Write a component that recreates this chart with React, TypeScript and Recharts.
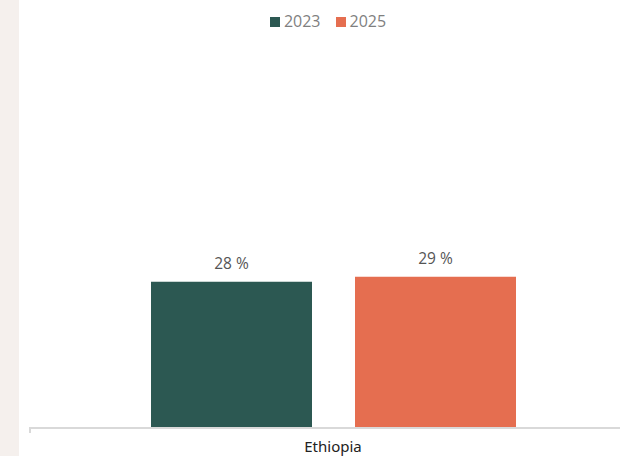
import React from 'react';
import { BarChart, Bar, XAxis, YAxis, Legend, LabelList } from 'recharts';

const categories = ['Ethiopia'];
const seriesNames = ['2023', '2025'];
const values2023 = [28];
const values2025 = [29];
const seriesColors = ['#2c5852', '#e56e50'];
const edgeTicks = [0];

const data = categories.map((c, i) => ({
  country: c,
  y2023: values2023[i],
  y2025: values2025[i],
}));

const renderLegend = (props: any) => {
  const payload = props.payload || [];
  return (
    <div
      style={{
        display: 'flex',
        justifyContent: 'center',
        alignItems: 'center',
        fontFamily: '"Open Sans", sans-serif',
        fontSize: 16,
        color: '#7f7f7f',
        lineHeight: '22px',
      }}
    >
      {payload.map((p: any, i: number) => (
        <span
          key={i}
          style={{ display: 'inline-flex', alignItems: 'center', marginRight: i === 0 ? 15 : 0 }}
        >
          <span
            style={{
              display: 'inline-block',
              width: 10,
              height: 10,
              background: p.color,
              marginRight: 4,
              marginTop: 2,
            }}
          />
          {p.value}
        </span>
      ))}
    </div>
  );
};

export default function App() {
  return (
    <div
      style={{
        position: 'absolute',
        left: 0,
        top: 0,
        width: 620,
        height: 456,
        overflow: 'hidden',
        background: '#ffffff',
      }}
    >
      <div
        style={{
          position: 'absolute',
          left: 0,
          top: 0,
          width: 18.5,
          height: 456,
          background: '#f5f0ed',
        }}
      />
      <div style={{ position: 'absolute', left: 0, top: 0 }}>
        <BarChart
          width={650}
          height={456}
          data={data}
          margin={{ top: 92, right: 14, bottom: 0, left: 30 }}
          barGap={43}
        >
          <Legend
            verticalAlign="top"
            height={24}
            content={renderLegend}
            wrapperStyle={{ top: 10, left: 0, width: 656 }}
          />
          <XAxis
            xAxisId={0}
            dataKey="y2023"
            type="number"
            scale="linear"
            domain={[0, 100]}
            allowDataOverflow
            ticks={edgeTicks}
            tickFormatter={() => ''}
            axisLine={false}
            tickLine={{ stroke: '#d9d9d9', strokeWidth: 2 }}
            tickSize={6}
            height={1}
          />
          <XAxis
            xAxisId={1}
            dataKey="country"
            axisLine={{ stroke: '#d9d9d9', strokeWidth: 2 }}
            tickLine={false}
            tickSize={6}
            tickMargin={7}
            height={28}
            interval={0}
            tick={{ fill: '#222222', fontFamily: '"Noto Sans", sans-serif', fontSize: 15 }}
          />
          <YAxis hide domain={[0, 60]} />
          <Bar
            xAxisId={1}
            dataKey="y2023"
            name={seriesNames[0]}
            fill={seriesColors[0]}
            barSize={161}
            isAnimationActive={false}
          >
            <LabelList
              dataKey="y2023"
              position="top"
              offset={13}
              formatter={(v: any) => `${v} %`}
              style={{ fill: '#555555', fontFamily: '"Open Sans", sans-serif', fontSize: 15.5 }}
            />
          </Bar>
          <Bar
            xAxisId={1}
            dataKey="y2025"
            name={seriesNames[1]}
            fill={seriesColors[1]}
            barSize={161}
            isAnimationActive={false}
          >
            <LabelList
              dataKey="y2025"
              position="top"
              offset={13}
              formatter={(v: any) => `${v} %`}
              style={{ fill: '#555555', fontFamily: '"Open Sans", sans-serif', fontSize: 15.5 }}
            />
          </Bar>
        </BarChart>
      </div>
    </div>
  );
}
